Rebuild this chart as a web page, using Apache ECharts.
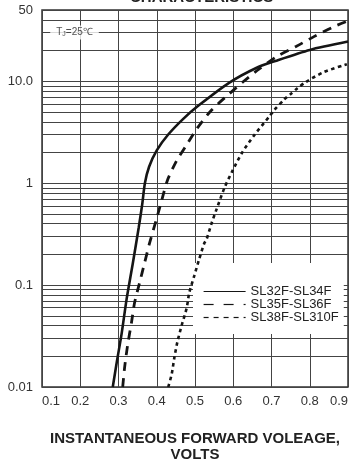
<!DOCTYPE html>
<html><head><meta charset="utf-8">
<script src="https://cdn.jsdelivr.net/npm/echarts@6/dist/echarts.min.js"></script>
<style>html,body{margin:0;padding:0;background:#fff}#c{width:351px;height:468px}</style>
</head><body><div id="c"></div>
<script>
// ---- data ----
const seriesNames = ['SL32F-SL34F', 'SL35F-SL36F', 'SL38F-SL310F'];

const solidX = [0.285, 0.296, 0.308, 0.321, 0.337, 0.353, 0.362, 0.369, 0.380, 0.400, 0.430, 0.470, 0.510, 0.590, 0.660, 0.710, 0.800, 0.900];
const solidY = [0.01, 0.018, 0.033, 0.072, 0.16, 0.37, 0.62, 1.0, 1.45, 2.1, 3.0, 4.3, 5.8, 9.7, 13.5, 15.8, 20.3, 24.5];

const dashX = [0.311, 0.316, 0.324, 0.334, 0.342, 0.355, 0.368, 0.381, 0.399, 0.413, 0.428, 0.452, 0.478, 0.506, 0.543, 0.590, 0.629, 0.668, 0.715, 0.764, 0.811, 0.863, 0.900];
const dashY = [0.01, 0.0156, 0.026, 0.043, 0.067, 0.105, 0.164, 0.256, 0.44, 0.68, 1.07, 1.66, 2.37, 3.47, 5.2, 7.55, 10.1, 13.2, 17.6, 21.9, 27.4, 34.3, 39];

const dotX = [0.430, 0.439, 0.446, 0.454, 0.465, 0.478, 0.485, 0.498, 0.511, 0.524, 0.530, 0.543, 0.556, 0.577, 0.597, 0.623, 0.655, 0.694, 0.707, 0.733, 0.751, 0.767, 0.790, 0.837, 0.897];
const dotY = [0.01, 0.0133, 0.0194, 0.0277, 0.040, 0.059, 0.084, 0.123, 0.18, 0.256, 0.28, 0.40, 0.55, 0.9, 1.3, 1.99, 2.96, 4.5, 5.2, 6.6, 7.55, 8.5, 9.86, 12.3, 14.7];

const xTickValues = [0.1, 0.2, 0.3, 0.4, 0.5, 0.6, 0.7, 0.8, 0.9];
const xTickLabels = ['0.1', '0.2', '0.3', '0.4', '0.5', '0.6', '0.7', '0.8', '0.9'];
const yTickValues = [0.01, 0.1, 1, 10, 50];
const yTickLabels = ['0.01', '0.1', '1', '10.0', '50'];
const yMinorLines = [0.02, 0.03, 0.04, 0.05, 0.06, 0.07, 0.08, 0.09,
                     0.2, 0.3, 0.4, 0.5, 0.6, 0.7, 0.8, 0.9,
                     2, 3, 4, 5, 6, 7, 8, 9,
                     20, 30, 40];

const titleText = 'CHARACTERISTICS';
const xAxisTitle = 'INSTANTANEOUS FORWARD VOLEAGE,\nVOLTS';
const noteText = 'T{s|J}=25℃';
const notePoint = [0.185, 30];

// ---- chart ----
const zip = (xs, ys) => xs.map((x, i) => [x, ys[i]]);
const FONT = 'Liberation Sans, Arial, sans-serif';
const chart = echarts.init(document.getElementById('c'), null, {renderer: 'canvas'});

function yLabel(v) {
  for (let i = 0; i < yTickValues.length; i++) {
    if (Math.abs(Math.log10(v) - Math.log10(yTickValues[i])) < 1e-3) return yTickLabels[i];
  }
  return '';
}
function xLabel(v) {
  for (let i = 0; i < xTickValues.length; i++) {
    if (Math.abs(v - xTickValues[i]) < 1e-6) return xTickLabels[i];
  }
  return '';
}

const curveColor = '#151515';
const gridColor = '#444';

chart.setOption({
  animation: false,
  title: {
    text: titleText, left: 130, top: -10, padding: 0,
    textStyle: {fontFamily: FONT, fontSize: 15, fontWeight: 'bold', color: '#222'}
  },
  grid: {left: 42, right: 2, top: 10, bottom: 74, show: true, borderColor: '#333', borderWidth: 1.5, containLabel: false},
  legend: {
    data: [
      {name: seriesNames[0], lineStyle: {width: 1.2, type: 'solid'}},
      {name: seriesNames[1], lineStyle: {width: 1.2, type: [10, 10]}},
      {name: seriesNames[2], lineStyle: {width: 1.2, type: [5, 5]}}
    ],
    orient: 'vertical', left: 193, top: 263,
    padding: [22, 5, 10, 10], itemGap: 0, itemWidth: 42, itemHeight: 11,
    backgroundColor: '#fff', z: 4,
    itemStyle: {opacity: 0},
    selectedMode: false,
    textStyle: {fontFamily: FONT, fontSize: 13, color: '#222', lineHeight: 11.5}
  },
  xAxis: {
    type: 'value', min: 0.1, max: 0.9, interval: 0.1,
    axisLine: {show: false}, axisTick: {show: false},
    splitLine: {show: true, lineStyle: {color: gridColor, width: 1}},
    axisLabel: {formatter: xLabel, margin: 8, fontFamily: FONT, fontSize: 13, color: '#333',
                alignMinLabel: 'left', alignMaxLabel: 'right'},
    name: xAxisTitle, nameLocation: 'middle', nameGap: 44,
    nameTextStyle: {fontFamily: FONT, fontSize: 15, fontWeight: 'bold', color: '#222', lineHeight: 16}
  },
  yAxis: {
    type: 'log', logBase: 10, min: 0.01, max: 50,
    axisLine: {show: false}, axisTick: {show: false},
    splitLine: {show: true, lineStyle: {color: gridColor, width: 1}},
    axisLabel: {formatter: yLabel, margin: 9, fontFamily: FONT, fontSize: 13, color: '#333'}
  },
  series: [
    {
      name: seriesNames[0], type: 'line', data: zip(solidX, solidY), symbol: 'none', smooth: 0.25, z: 6,
      lineStyle: {color: curveColor, width: 2.6, type: 'solid'}, itemStyle: {color: curveColor}
    },
    {
      name: seriesNames[1], type: 'line', data: zip(dashX, dashY), symbol: 'none', smooth: 0.25, z: 6,
      lineStyle: {color: curveColor, width: 2.8, type: [9, 7]}, itemStyle: {color: curveColor}
    },
    {
      name: seriesNames[2], type: 'line', data: zip(dotX, dotY), symbol: 'none', smooth: 0.25, z: 6,
      lineStyle: {color: curveColor, width: 2.6, type: [3.5, 3.5]}, itemStyle: {color: curveColor}
    },
    {
      name: 'minorGrid', type: 'line', data: [], z: 1, silent: true,
      markLine: {
        silent: true, z: 1, symbol: ['none', 'none'], label: {show: false}, animation: false,
        lineStyle: {color: gridColor, width: 1, type: 'solid'},
        emphasis: {disabled: true},
        data: yMinorLines.map(v => ({yAxis: v}))
      }
    },
    {
      name: 'note', type: 'scatter', data: [notePoint], symbolSize: 1, z: 7, silent: true,
      itemStyle: {color: 'rgba(0,0,0,0)'},
      label: {
        show: true, position: 'inside', formatter: noteText,
        fontFamily: FONT, fontSize: 10, color: '#222', backgroundColor: '#fff', padding: [2, 6],
        rich: {s: {fontFamily: FONT, fontSize: 7, color: '#222', padding: [3, 0, 0, 0]}}
      }
    }
  ]
});
</script>
</body></html>
